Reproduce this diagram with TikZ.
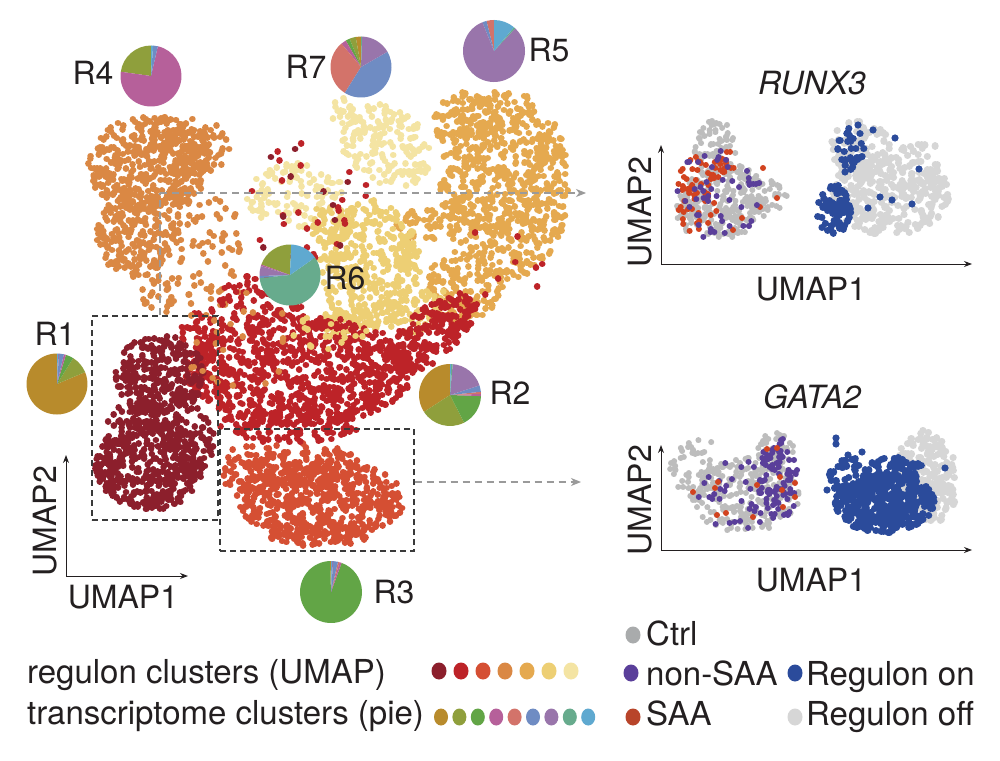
\documentclass[tikz,border=0pt]{standalone}
\usepackage{fontspec}
\setmainfont{TeX Gyre Heros}
\usetikzlibrary{arrows.meta,calc}
\definecolor{cA}{HTML}{8C1F2C}
\definecolor{cB}{HTML}{BD2328}
\definecolor{cC}{HTML}{D54F33}
\definecolor{cD}{HTML}{DA8844}
\definecolor{cE}{HTML}{E5A94F}
\definecolor{cF}{HTML}{EDCF74}
\definecolor{cG}{HTML}{F4E4A3}
\definecolor{pgold}{HTML}{B88B2C}
\definecolor{polive}{HTML}{8F9F3C}
\definecolor{pgreen}{HTML}{62A546}
\definecolor{ppink}{HTML}{B6609A}
\definecolor{psalmon}{HTML}{D3736A}
\definecolor{pblue}{HTML}{6F8CC3}
\definecolor{ppurple}{HTML}{9975AB}
\definecolor{pteal}{HTML}{67AB8D}
\definecolor{plblue}{HTML}{5FA9D0}
\definecolor{rp}{HTML}{BDBDBD}
\definecolor{rl}{HTML}{D6D6D6}
\definecolor{rred}{HTML}{D2431F}
\definecolor{rpur}{HTML}{5A3F9A}
\definecolor{rblue}{HTML}{2B4B9B}
\definecolor{txt}{HTML}{231F20}
\definecolor{dgray}{HTML}{9A9A9A}
\definecolor{bxc}{HTML}{3A3A3A}
\definecolor{lgctrl}{HTML}{A9ABAC}
\definecolor{lgsaa}{HTML}{B8442A}
\newcommand\fsz[1]{\fontsize{#1}{#1}\selectfont}
\newcount\mycnt
% color, cx, cy, rx, ry, rot, n, dot radius  (dots = round-capped tiny strokes, one path per blob)
\newcommand\myblob[8]{%
  \begin{pgfscope}%
  \pgfmathsetmacro\mylw{2*#8}%
  \pgfsetlinewidth{\mylw pt}%
  \pgfsetroundcap
  \pgfsetstrokecolor{#1}%
  \mycnt=0
  \loop
    \pgfmathsetmacro\myr{sqrt(rnd)}%
    \pgfmathsetmacro\myt{360*rnd}%
    \pgfmathsetmacro\mydx{#4*\myr*cos(\myt)}%
    \pgfmathsetmacro\mydy{#5*\myr*sin(\myt)}%
    \pgfmathsetmacro\myX{#2+\mydx*cos(#6)-\mydy*sin(#6)}%
    \pgfmathsetmacro\myXb{\myX+0.02}%
    \pgfmathsetmacro\myY{#3+\mydx*sin(#6)+\mydy*cos(#6)}%
    \pgfpathmoveto{\pgfpointxy{\myX}{\myY}}%
    \pgfpathlineto{\pgfpointxy{\myXb}{\myY}}%
    \advance\mycnt by 1
  \ifnum\mycnt<#7\repeat
  \pgfusepath{stroke}%
  \end{pgfscope}}
% cx cy r a1 a2 color (visual angles, ccw)
\newcommand\myslice[6]{%
  \fill[#6] (#1,#2) -- ++({-(#4)}:#3) arc[start angle={-(#4)}, end angle={-(#5)}, radius=#3] -- cycle;}
\tikzset{
  rlab/.style={font=\fsz{32}, text=txt, inner sep=0pt},
  ltxt/.style={font=\fsz{33}, text=txt, inner sep=0pt, anchor=base west},
  axisarrow/.style={-{Stealth[length=8pt,width=6pt]}, line width=1pt, draw=txt},
  graydash/.style={draw=dgray, line width=1.2pt, dash pattern=on 7pt off 5pt},
  grayarrow/.style={graydash, -{Stealth[length=10pt,width=8pt,inset=3pt]}},
  dbox/.style={draw=bxc, line width=1.1pt, dash pattern=on 6pt off 4pt, inner sep=0pt},
}
\begin{document}
\begin{tikzpicture}[x=1pt,y=-1pt]
\useasboundingbox (0,0) rectangle (1000,760);
\fill[white] (0,0) rectangle (1000,760);
\pgfmathsetseed{7}
% ---------- main UMAP ----------
% R4
\myblob{cD}{150}{165}{62}{50}{0}{420}{3.3}
\myblob{cD}{200}{148}{30}{30}{0}{80}{3.3}
\myblob{cD}{135}{235}{40}{42}{0}{200}{3.3}
\myblob{cD}{205}{255}{45}{60}{0}{70}{3.3}
\myblob{cD}{160}{295}{22}{20}{0}{25}{3.3}
% R7
\myblob{cG}{385}{145}{50}{38}{35}{160}{3.3}
\myblob{cG}{295}{195}{50}{33}{0}{110}{3.3}
\myblob{cG}{345}{112}{15}{14}{0}{20}{3.3}
% R5
\myblob{cE}{505}{185}{65}{95}{0}{650}{3.3}
\myblob{cE}{468}{122}{35}{30}{0}{110}{3.3}
\myblob{cE}{465}{285}{38}{35}{0}{130}{3.3}
\myblob{cE}{420}{225}{25}{18}{0}{40}{3.3}
\myblob{cE}{458}{318}{15}{12}{0}{15}{3.3}
% R6
\myblob{cF}{370}{265}{50}{65}{0}{380}{3.3}
\myblob{cF}{330}{225}{20}{25}{0}{40}{3.3}
\myblob{cF}{420}{310}{35}{20}{-30}{60}{3.3}
\myblob{cF}{350}{322}{30}{14}{0}{50}{3.3}
% R3
\myblob{cC}{320}{500}{85}{40}{0}{520}{3.3}
\myblob{cC}{300}{465}{60}{22}{0}{110}{3.3}
\myblob{cC}{245}{472}{22}{30}{0}{50}{3.3}
\myblob{cC}{318}{535}{50}{11}{0}{80}{3.3}
% R2
\myblob{cB}{300}{370}{115}{55}{0}{800}{3.3}
\myblob{cB}{430}{335}{58}{25}{-40}{200}{3.3}
\myblob{cB}{262}{300}{45}{25}{0}{100}{3.3}
\myblob{cB}{290}{425}{70}{18}{0}{130}{3.3}
\myblob{cB}{205}{330}{25}{25}{0}{40}{3.3}
% R1
\myblob{cA}{160}{375}{45}{40}{0}{280}{3.3}
\myblob{cA}{150}{465}{55}{45}{0}{420}{3.3}
\myblob{cA}{145}{418}{38}{16}{0}{70}{3.3}
\myblob{cA}{192}{440}{22}{35}{0}{60}{3.3}
% scattered
\myblob{cB}{300}{200}{70}{60}{0}{25}{3.3}
\myblob{cA}{300}{200}{70}{60}{0}{10}{3.3}
\myblob{cD}{230}{340}{60}{60}{0}{25}{3.3}
\myblob{cF}{330}{330}{40}{20}{0}{20}{3.3}
\myblob{cB}{500}{250}{50}{60}{0}{8}{3.3}
% ---------- dashed boxes and arrows ----------
\node[dbox, minimum width=126pt, minimum height=204pt] (box1) at (155,418) {};
\node[dbox, minimum width=194pt, minimum height=122pt] (box2) at (317,490) {};
\coordinate (a1c) at (160,193);
\coordinate (a1) at (586,193);
\coordinate (a2) at (581,482);
\draw[graydash] (box1.north -| a1c) -- (a1c);
\draw[grayarrow] (a1c) -- (a1);
\draw[grayarrow] (box2.east |- a2) -- (a2);
% ---------- pies ----------
\foreach \a/\b/\c in {90/172/polive,172/437/ppink,437/446/pblue,446/450/plblue}
  {\myslice{151}{76}{30.5}{\a}{\b}{\c}}
\foreach \a/\b/\c in {90/100/pgold,100/112/polive,112/120/pgreen,120/130/ppink,130/238/psalmon,238/390/pblue,390/448/ppurple,448/450/pteal}
  {\myslice{361}{67}{30.5}{\a}{\b}{\c}}
\foreach \a/\b/\c in {90/104/psalmon,104/112/pblue,112/407/ppurple,407/410/pteal,410/450/plblue}
  {\myslice{494}{51}{31}{\a}{\b}{\c}}
\foreach \a/\b/\c in {88/160/polive,160/163/ppink,163/182/ppurple,182/186/pblue,186/395/pteal,395/448/plblue}
  {\myslice{290}{275}{30.5}{\a}{\b}{\c}}
\foreach \a/\b/\c in {90/383/pgold,383/418/polive,418/433/pgreen,433/437/ppink,437/446/pblue,446/448/ppurple,448/450/plblue}
  {\myslice{57}{384}{30.5}{\a}{\b}{\c}}
\foreach \a/\b/\c in {90/213/pgold,213/297/polive,297/358/pgreen,358/362/ppink,362/366/psalmon,366/378/pblue,378/445/ppurple,445/448/pteal,448/450/plblue}
  {\myslice{450}{395}{31}{\a}{\b}{\c}}
\foreach \a/\b/\c in {90/92/pgold,92/430/pgreen,430/434/ppink,434/437/psalmon,437/446/pblue,446/448/ppurple,448/450/plblue}
  {\myslice{331}{592}{31}{\a}{\b}{\c}}
% ---------- cluster labels ----------
\node[rlab] (lR4) at (93,73) {R4};
\node[rlab] (lR7) at (306,67) {R7};
\node[rlab] (lR5) at (549,50) {R5};
\node[rlab] (lR6) at (345,278) {R6};
\node[rlab] (lR1) at (55,334) {R1};
\node[rlab] (lR2) at (510,393) {R2};
\node[rlab] (lR3) at (394,592) {R3};
% ---------- left axes ----------
\coordinate (o1) at (66,576);
\coordinate (y1) at (66,455);
\coordinate (x1) at (188,576);
\draw[axisarrow] (o1) -- (y1);
\draw[axisarrow] (o1) -- (x1);
\node[rlab, rotate=90] (u2a) at (45,521) {UMAP2};
\node[rlab] (u1a) at (123,597) {UMAP1};
% ---------- RUNX3 panel ----------
\node[rlab, font=\fsz{32}\itshape] (tR) at (812,83) {RUNX3};
\myblob{rp}{725}{200}{45}{38}{0}{230}{3}
\myblob{rp}{715}{150}{22}{30}{0}{80}{3}
\myblob{rp}{770}{195}{22}{15}{0}{25}{3}
\myblob{rp}{690}{210}{15}{25}{0}{40}{3}
\myblob{rred}{697}{195}{22}{40}{0}{55}{3}
\myblob{rred}{725}{165}{12}{15}{0}{15}{3}
\foreach \p in {(763,168),(777,198),(760,207),(742,218),(733,230)} \fill[rred] \p circle[radius=3pt];
\myblob{rpur}{718}{195}{45}{45}{0}{50}{3}
\myblob{rl}{890}{195}{60}{40}{0}{280}{3.6}
\myblob{rl}{860}{150}{30}{30}{0}{80}{3.6}
\myblob{rl}{920}{165}{25}{25}{0}{40}{3.6}
\myblob{rblue}{834}{210}{17}{25}{0}{70}{3.6}
\myblob{rblue}{850}{150}{14}{25}{0}{28}{3.6}
\foreach \p in {(895,138),(919,169),(912,204),(880,197),(892,200),(868,208),(861,157),(873,130),(858,125),(845,172)} \fill[rblue] \p circle[radius=3.6pt];
\coordinate (o2) at (661,264);
\coordinate (y2) at (661,145);
\coordinate (x2) at (972,264);
\draw[axisarrow] (o2) -- (y2);
\draw[axisarrow] (o2) -- (x2);
\node[rlab, rotate=90] (u2b) at (640,212) {UMAP2};
\node[rlab] (u1b) at (811,289) {UMAP1};
% ---------- GATA2 panel ----------
\node[rlab, font=\fsz{32}\itshape] (tG) at (812,397) {GATA2};
\myblob{rp}{745}{495}{55}{38}{0}{230}{3}
\myblob{rp}{700}{470}{30}{30}{0}{60}{3}
\myblob{rp}{775}{450}{20}{18}{0}{40}{3}
\myblob{rpur}{778}{480}{20}{45}{0}{85}{3}
\myblob{rpur}{740}{495}{45}{35}{0}{40}{3}
\foreach \p in {(777,448),(767,449),(780,477),(782,490),(795,483),(795,497),(783,507),(757,485),(718,482),(693,492),(715,488),(717,515),(726,513),(753,517)} \fill[rred] \p circle[radius=3pt];
\myblob{rl}{925}{470}{30}{40}{0}{150}{3.6}
\myblob{rl}{935}{500}{20}{25}{0}{60}{3.6}
\myblob{rblue}{885}{503}{50}{30}{0}{400}{3.6}
\myblob{rblue}{852}{478}{25}{20}{0}{60}{3.6}
\myblob{rblue}{895}{470}{28}{14}{0}{45}{3.6}
\foreach \p in {(836,438),(836,444),(827,490),(848,455),(862,452),(945,468)} \fill[rblue] \p circle[radius=3.6pt];
\coordinate (o3) at (661,550);
\coordinate (y3) at (661,445);
\coordinate (x3) at (972,550);
\draw[axisarrow] (o3) -- (y3);
\draw[axisarrow] (o3) -- (x3);
\node[rlab, rotate=90] (u2c) at (640,500) {UMAP2};
\node[rlab] (u1c) at (811,580) {UMAP1};
% ---------- legend ----------
\node[ltxt] (lg1) at (27,683) {regulon clusters (UMAP)};
\node[ltxt] (lg2) at (27,724) {transcriptome clusters (pie)};
\foreach \c [count=\i from 0] in {cA,cB,cC,cD,cE,cF,cG}
  \fill[\c] ({439+22*\i},671) ellipse[x radius=7.5pt, y radius=8.5pt];
\foreach \c [count=\i from 0] in {pgold,polive,pgreen,ppink,psalmon,pblue,ppurple,pteal,plblue}
  \fill[\c] ({441+18.4*\i},717) ellipse[x radius=7pt, y radius=8.5pt];
\fill[lgctrl] (633,635) ellipse[x radius=7.5pt, y radius=8.5pt];
\node[ltxt] (lc) at (646,645) {Ctrl};
\fill[rpur] (631,673) ellipse[x radius=7.5pt, y radius=8.5pt];
\node[ltxt] (ln) at (646,685) {non-SAA};
\fill[lgsaa] (633,717) ellipse[x radius=7.5pt, y radius=8.5pt];
\node[ltxt] (ls) at (646,725) {SAA};
\fill[rblue] (795,673) ellipse[x radius=7.5pt, y radius=8.5pt];
\node[ltxt] (lon) at (806,685) {Regulon on};
\fill[rl] (795,717) ellipse[x radius=7.5pt, y radius=8.5pt];
\node[ltxt] (loff) at (806,725) {Regulon off};
\end{tikzpicture}
\end{document}
